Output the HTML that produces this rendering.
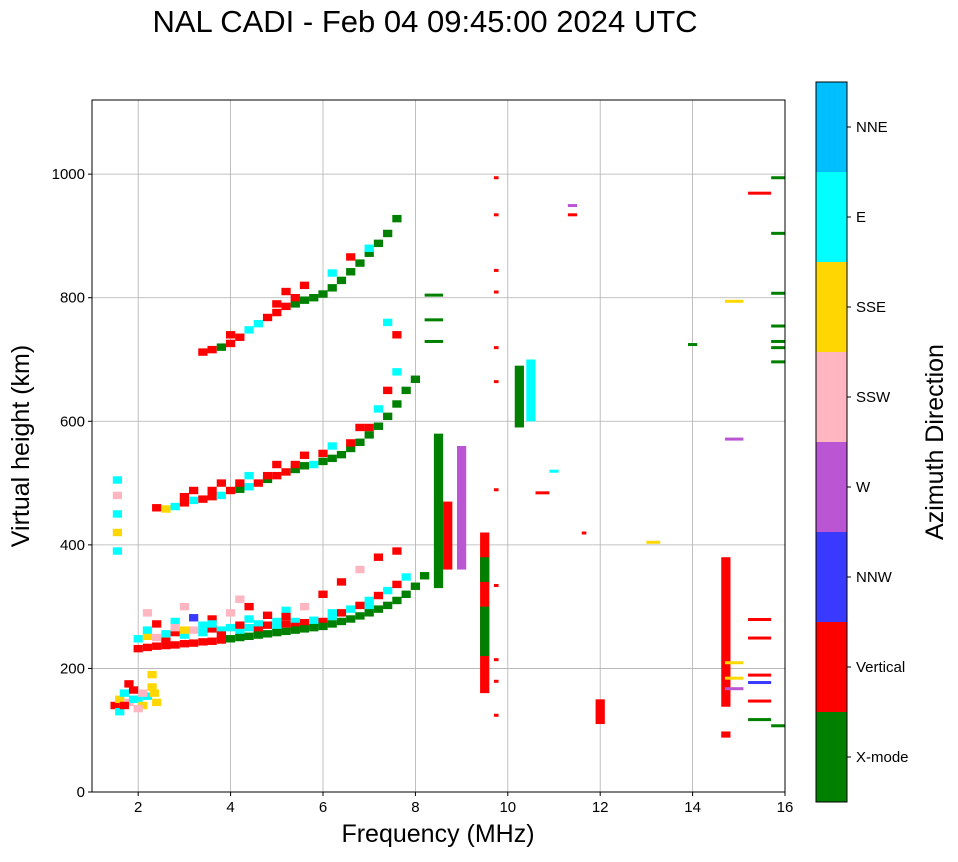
<!DOCTYPE html>
<html><head><meta charset="utf-8"><style>
body{margin:0;background:#fff;font-family:"Liberation Sans",sans-serif}
svg text{font-family:"Liberation Sans",sans-serif}
</style></head><body>
<svg id="chart" width="958" height="857" xmlns="http://www.w3.org/2000/svg">
<text x="425" y="32" text-anchor="middle" font-size="31">NAL CADI - Feb 04 09:45:00 2024 UTC</text>
<g id="grid"></g><g id="marks"></g><g id="axes"></g><g id="cbar"></g>
</svg>
<script>
const xTicks=[2,4,6,8,10,12,14,16];
const yTicks=[0,200,400,600,800,1000];
const dirNames=["X-mode","Vertical","NNW","W","SSW","SSE","E","NNE"];
const dirColors=["#008000","#ff0000","#3a3aff","#ba55d3","#ffb6c1","#ffd700","#00ffff","#00bfff"];
// trace cells: [freq MHz, height km, direction index]
const traceA=[[2.0,232,1],[2.2,234,1],[2.4,236,1],[2.6,237,1],[2.8,238,1],[3.0,240,1],[3.2,241,1],[3.4,243,1],[3.6,244,1],[3.8,246,1],[4.0,248,0],[4.2,250,0],[4.4,252,0],[4.6,254,0],[4.8,256,0],[5.0,258,0],[5.2,260,0],[5.4,262,0],[5.6,264,0],[5.8,266,0],[6.0,268,0],[6.2,272,0],[6.4,276,0],[6.6,280,0],[6.8,285,0],[7.0,290,0],[7.2,296,0],[7.4,302,0],[7.6,310,0],[7.8,320,0],[8.0,333,0],[8.2,350,0]];
const traceA2=[[2.0,248,6],[2.2,252,5],[2.4,250,4],[2.6,256,6],[2.8,258,1],[3.0,254,6],[3.2,262,4],[3.4,258,6],[3.6,264,1],[3.8,262,6],[4.0,266,6],[4.2,270,1],[4.4,266,6],[4.6,272,6],[4.8,270,1],[5.0,276,6],[5.2,272,1],[5.4,276,6],[5.6,274,1],[5.8,278,6],[6.0,276,1],[6.2,284,6],[6.4,290,1],[6.6,296,6],[6.8,302,1],[7.0,310,6],[7.2,318,1],[7.4,326,6],[7.6,336,1],[7.8,348,6],[2.4,272,1],[2.8,276,6],[3.2,282,2],[3.6,280,1],[4.0,290,4],[4.4,300,1],[4.8,286,1],[5.2,294,6],[5.6,300,4],[6.0,320,1],[6.4,340,1],[6.8,360,4],[7.2,380,1],[7.6,390,1],[2.2,290,4],[3.0,300,4],[4.2,312,4],[2.2,262,6],[2.6,244,1],[3.0,262,5],[3.4,270,6],[3.8,254,1],[4.2,258,6],[4.6,262,1],[5.0,266,6],[5.4,268,1],[5.8,272,6],[2.8,266,4],[3.6,272,6],[4.4,280,6],[5.2,284,1],[6.2,290,6],[7.0,300,6]];
const traceB=[[2.4,460,1],[2.6,458,5],[2.8,462,6],[3.0,468,1],[3.2,472,6],[3.4,474,1],[3.6,478,1],[3.8,480,6],[4.0,488,1],[4.2,490,0],[4.4,494,6],[4.6,500,1],[4.8,506,0],[5.0,512,1],[5.2,518,1],[5.4,522,0],[5.6,528,0],[5.8,530,6],[6.0,535,0],[6.2,540,0],[6.4,546,0],[6.6,556,0],[6.8,566,0],[7.0,578,0],[7.2,592,0],[7.4,608,0],[7.6,628,0],[7.8,650,0],[8.0,668,0],[3.2,488,1],[3.8,500,1],[4.4,512,6],[5.0,530,1],[5.6,545,1],[6.2,560,6],[6.8,590,1],[7.2,620,6],[7.4,650,1],[7.6,680,6],[7.6,740,1],[7.4,760,6],[3.0,478,1],[3.6,488,1],[4.2,500,1],[4.8,512,1],[5.4,530,1],[6.0,548,1],[6.6,565,1],[7.0,590,1]];
const traceC=[[3.4,712,1],[3.6,716,1],[3.8,720,0],[4.0,726,1],[4.2,736,1],[4.4,748,6],[4.6,758,6],[4.8,768,1],[5.0,776,1],[5.2,786,1],[5.4,790,0],[5.6,796,0],[5.8,800,0],[6.0,806,0],[6.2,816,0],[6.4,828,0],[6.6,842,0],[6.8,856,0],[7.0,872,0],[7.2,888,0],[7.4,904,0],[7.6,928,0],[5.2,810,1],[5.6,820,1],[6.2,840,6],[6.6,866,1],[7.0,880,6],[5.0,790,1],[5.4,800,1],[4.0,740,1]];
const lowCluster=[[1.5,140,1],[1.6,150,5],[1.7,160,6],[1.8,145,4],[1.9,165,1],[2.0,150,6],[2.1,140,5],[2.2,155,6],[2.3,170,5],[2.4,145,5],[1.6,130,6],[1.8,175,1],[2.0,135,4],[2.3,190,5],[1.55,390,6],[1.55,420,5],[1.55,450,6],[1.55,480,4],[1.55,505,6],[1.7,140,1],[1.9,150,6],[2.1,160,4],[2.35,160,5]];
// vertical strips: [freq, h0, h1, dir]
const strips=[[9.5,160,420,1],[9.5,220,300,0],[9.5,340,380,0],[8.5,330,580,0],[8.7,360,470,1],[9.0,360,560,3],[10.25,590,690,0],[10.5,600,700,6],[14.72,138,380,1],[14.72,88,98,1],[12.0,110,150,1]];
// horizontal lines: [f0, f1, height, dir]
const hlines=[[15.7,16,995,0],[15.7,16,905,0],[15.7,16,808,0],[15.7,16,755,0],[15.7,16,730,0],[15.7,16,720,0],[15.7,16,697,0],[15.7,16,108,0],[15.2,15.7,970,1],[15.2,15.7,280,1],[15.2,15.7,250,1],[15.2,15.7,190,1],[15.2,15.7,148,1],[15.2,15.7,118,0],[15.2,15.7,178,2],[14.7,15.1,795,5],[14.7,15.1,210,5],[14.7,15.1,185,5],[14.7,15.1,572,3],[14.7,15.1,168,3],[13.0,13.3,405,5],[13.9,14.1,725,0],[8.2,8.6,805,0],[8.2,8.6,765,0],[8.2,8.6,730,0],[11.3,11.5,935,1],[11.3,11.5,950,3],[10.6,10.9,485,1],[10.9,11.1,520,6],[11.6,11.7,420,1],[9.7,9.8,995,1],[9.7,9.8,935,1],[9.7,9.8,845,1],[9.7,9.8,810,1],[9.7,9.8,720,1],[9.7,9.8,665,1],[9.7,9.8,490,1],[9.7,9.8,335,1],[9.7,9.8,215,1],[9.7,9.8,180,1],[9.7,9.8,125,1]];
const X0=92,X1=785,Y0=792,Y1=100,FMIN=1,FMAX=16,HMAX=1120;
const xs=f=>X0+(f-FMIN)/(FMAX-FMIN)*(X1-X0);
const ys=h=>Y0-h/HMAX*(Y0-Y1);
const NS="http://www.w3.org/2000/svg";
function mk(tag,parent,attrs){const e=document.createElementNS(NS,tag);for(const k in attrs)e.setAttribute(k,attrs[k]);parent.appendChild(e);return e;}
const grid=document.getElementById('grid'),marks=document.getElementById('marks'),axes=document.getElementById('axes'),cb=document.getElementById('cbar');
xTicks.forEach(t=>{const l=mk('line',grid,{x1:xs(t),x2:xs(t),y1:Y1,y2:Y0,stroke:'#b0b0b0','stroke-width':0.8});
});
yTicks.forEach(t=>{const l=mk('line',grid,{x1:X0,x2:X1,y1:ys(t),y2:ys(t),stroke:'#b0b0b0','stroke-width':0.8});
});
function cells(arr,name){arr.forEach(p=>{const r=mk('rect',marks,{x:xs(p[0]-0.1),y:ys(p[1]+6),width:xs(p[0]+0.1)-xs(p[0]-0.1),height:ys(p[1]-6)-ys(p[1]+6),fill:dirColors[p[2]]});
});}
cells(traceA2,'trace-1hop-scatter');cells(traceA,'trace-1hop');cells(traceB,'trace-2hop');cells(traceC,'trace-3hop');cells(lowCluster,'low-cluster');
strips.forEach(s=>{const r=mk('rect',marks,{x:xs(s[0]-0.1),y:ys(s[2]),width:xs(s[0]+0.1)-xs(s[0]-0.1),height:ys(s[1])-ys(s[2]),fill:dirColors[s[3]]});
});
hlines.forEach(s=>{const r=mk('rect',marks,{x:xs(s[0]),y:ys(s[2])-1,width:xs(s[1])-xs(s[0]),height:3,fill:dirColors[s[3]]});
});
const fr=mk('rect',axes,{x:X0,y:Y1,width:X1-X0,height:Y0-Y1,fill:'none',stroke:'#000','stroke-width':1});

xTicks.forEach(t=>{mk('line',axes,{x1:xs(t),x2:xs(t),y1:Y0,y2:Y0+4,stroke:'#000'});
const tx=mk('text',axes,{x:xs(t),y:Y0+20,'text-anchor':'middle','font-size':15});tx.textContent=t;
});
yTicks.forEach(t=>{mk('line',axes,{x1:X0-4,x2:X0,y1:ys(t),y2:ys(t),stroke:'#000'});
const tx=mk('text',axes,{x:X0-7,y:ys(t)+5,'text-anchor':'end','font-size':15});tx.textContent=t;
});
const xt=mk('text',axes,{x:438,y:842,'text-anchor':'middle','font-size':25});xt.textContent='Frequency (MHz)';

const yt=mk('text',axes,{x:29,y:446,'text-anchor':'middle','font-size':25,transform:'rotate(-90 29 446)'});yt.textContent='Virtual height (km)';

const CB0=82,CBH=90;
dirNames.forEach((n,i)=>{const k=7-i;const y=CB0+k*CBH;
const r=mk('rect',cb,{x:816,y:y,width:31,height:CBH,fill:dirColors[i]});

mk('line',cb,{x1:847,x2:851,y1:y+CBH/2,y2:y+CBH/2,stroke:'#000'});
const tx=mk('text',cb,{x:856,y:y+CBH/2+5,'font-size':15});tx.textContent=n;
});
mk('rect',cb,{x:816,y:CB0,width:31,height:8*CBH,fill:'none',stroke:'#000'});
const ct=mk('text',cb,{x:943,y:442,'text-anchor':'middle','font-size':25,transform:'rotate(-90 943 442)'});ct.textContent='Azimuth Direction';

</script>
</body></html>
